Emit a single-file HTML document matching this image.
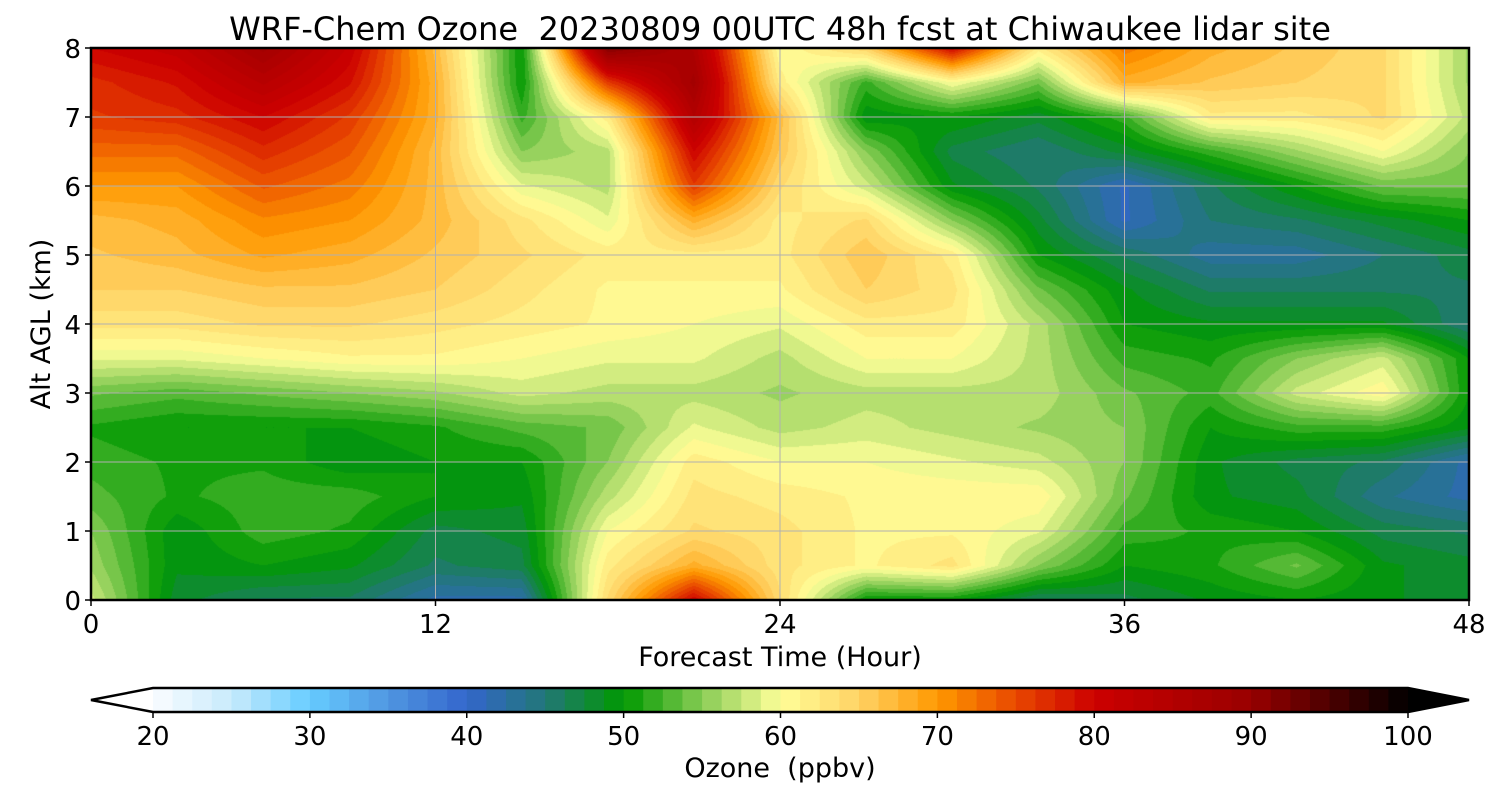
<!DOCTYPE html>
<html><head><meta charset="utf-8"><style>
html,body{margin:0;padding:0;background:#fff;}
#wrap{position:relative;width:1500px;height:800px;font-family:"DejaVu Sans","Liberation Sans",sans-serif;color:#000;}
canvas{position:absolute;left:91px;top:48px;}
svg{position:absolute;left:0;top:0;}
text{white-space:pre;font-family:"DejaVu Sans","Liberation Sans",sans-serif;}
</style></head><body>
<div id="wrap">
<canvas id="hm" width="1378" height="552"></canvas>
<svg id="sv" width="1500" height="800"></svg>
</div>
<script>
// Forecast hour columns
const hours = [0,3,6,9,12,15,18,21,24,27,30,33,36,39,42,45,48];
// Altitudes (km), top to bottom
const alts = [8,7.5,7,6.5,6,5.5,5,4.5,4,3.5,3,2.5,2,1.5,1,0.5,0];
// Ozone (ppbv) per column (hour), listed top (8 km) to bottom (0 km)
const oz_h0  = [80,77,76,73,70,67,66,65,63,59,54,51,52,53,55,56,58];
const oz_h3  = [82,79,77,73,70,68,67,65,63,59,53,50,51,51,49,49,48];
const oz_h6  = [88,84,80,77,74,71,69,66,64,60,54,50,51,52,52,50,46];
const oz_h9  = [81,79,76,74,72,70,68,66,64,61,55,50,49,52,51,49,46];
const oz_h12 = [67,68,68,67,67,67,66,65,63,61,56,51,50,50,47,46,42];
const oz_h15 = [50,50,52,55,59,63,64,63,62,60,58,53,50,49,48,47,42];
const oz_h18 = [92,76,62,57,57,59,62,61,61,59,57,54,55,57,60,62,64];
const oz_h21 = [86,88,85,80,76,68,62,61,60,59,57,59,62,63,64,68,80];
const oz_h24 = [60,62,67,66,64,62,62,61,59,57,56,57,60,62,63,63,64];
const oz_h27 = [65,52,49,55,58,64,66,65,62,60,57,58,60,61,61,61,50];
const oz_h30 = [80,60,50,47,49,55,62,63,62,60,57,57,59,61,61,63,50];
const oz_h33 = [62,54,48,45,46,48,50,54,57,57,57,56,58,61,59,55,46];
const oz_h36 = [72,68,52,48,41,41,46,49,50,52,54,55,55,54,52,50,47];
const oz_h39 = [68,66,62,52,46,45,43,46,49,51,52,50,49,49,51,51,49];
const oz_h42 = [66,65,62,56,50,46,43,46,49,55,58,52,47,48,50,54,50];
const oz_h45 = [64,64,64,60,54,48,45,46,49,58,61,52,46,44,47,49,49];
const oz_h48 = [56,56,57,55,54,50,47,46,45,50,50,49,42,42,46,48,48];
const ozone = [oz_h0,oz_h3,oz_h6,oz_h9,oz_h12,oz_h15,oz_h18,oz_h21,oz_h24,oz_h27,oz_h30,oz_h33,oz_h36,oz_h39,oz_h42,oz_h45,oz_h48];
// Colorbar ticks
const cbTicks = [20,30,40,50,60,70,80,90,100];
const xTicks = [0,12,24,36,48];
const yTicks = [0,1,2,3,4,5,6,7,8];

const PX0=91, PX1=1469, PY0=48, PY1=600;
const xScale = t => PX0 + (t-0)/(48-0)*(PX1-PX0);
const yScale = h => PY1 - h/8*(PY1-PY0);
const CB0=153, CB1=1408;
const cbScale = v => CB0 + (v-20)/80*(CB1-CB0);

const anchors=[[20,[250,252,255]],[25,[200,235,252]],[30,[102,204,255]],[35,[80,150,225]],[40,[51,102,204]],[45,[34,119,119]],[50,[0,153,0]],[55,[136,204,85]],[60,[255,255,153]],[65,[255,210,100]],[70,[255,153,0]],[75,[232,72,0]],[80,[204,0,0]],[90,[153,0,0]],[100,[0,0,0]]];
function cmap(v){
  if(v<=anchors[0][0]) return anchors[0][1];
  for(let i=1;i<anchors.length;i++){
    if(v<=anchors[i][0]){const a=anchors[i-1],b=anchors[i];const f=(v-a[0])/(b[0]-a[0]);
      return a[1].map((c,k)=>Math.round(c+(b[1][k]-c)*f));}
  }
  return anchors[anchors.length-1][1];
}
const STEP=1.25;
function qcolor(v){
  if(v<20) return [255,255,255];
  if(v>=100) return [0,0,0];
  const i=Math.floor((v-20)/STEP);
  return cmap(20+(i+0.5)*STEP);
}

(function(){
  const cv=document.getElementById('hm'),ctx=cv.getContext('2d');
  const W=cv.width,H=cv.height,img=ctx.createImageData(W,H);
  const nC=hours.length,nR=alts.length;
  for(let py=0;py<H;py++){
    const h=8-(py+0.5)/H*8;
    let r=0;while(r<nR-2 && alts[r+1]>h) r++;
    const fy=(alts[r]-h)/(alts[r]-alts[r+1]);
    for(let px=0;px<W;px++){
      const t=(px+0.5)/W*48;
      let c=0;while(c<nC-2 && hours[c+1]<t) c++;
      const fx=(t-hours[c])/(hours[c+1]-hours[c]);
      const v00=ozone[c][r],v10=ozone[c+1][r],v01=ozone[c][r+1],v11=ozone[c+1][r+1];
      const v=(v00*(1-fx)+v10*fx)*(1-fy)+(v01*(1-fx)+v11*fx)*fy;
      const col=qcolor(v);const k=(py*W+px)*4;
      img.data[k]=col[0];img.data[k+1]=col[1];img.data[k+2]=col[2];img.data[k+3]=255;
    }
  }
  ctx.putImageData(img,0,0);
})();

const NS='http://www.w3.org/2000/svg';
const sv=document.getElementById('sv');
function mk(tag,attrs,parent){const e=document.createElementNS(NS,tag);for(const k in attrs)e.setAttribute(k,attrs[k]);(parent||sv).appendChild(e);return e;}
function txt(s,attrs){const e=mk('text',attrs);e.textContent=s;return e;}

yTicks.forEach(v=>{if(v>0&&v<8){const l=mk('line',{x1:PX0,x2:PX1,y1:yScale(v),y2:yScale(v),stroke:'#b0b0b0','stroke-width':1});

}});
xTicks.forEach(v=>{if(v>0&&v<48){const l=mk('line',{x1:xScale(v),x2:xScale(v),y1:PY0,y2:PY1,stroke:'#b0b0b0','stroke-width':1});

}});
const fr=mk('rect',{x:PX0,y:PY0,width:PX1-PX0,height:PY1-PY0,fill:'none',stroke:'#000','stroke-width':2.5});



yTicks.forEach(v=>{const y=yScale(v);mk('line',{x1:PX0-6,x2:PX0,y1:y,y2:y,stroke:'#000','stroke-width':1.5});
const t=txt(String(v),{x:PX0-10,y:y+10,'font-size':26,'text-anchor':'end'});

});
xTicks.forEach(v=>{const x=xScale(v);mk('line',{x1:x,x2:x,y1:PY1,y2:PY1+6,stroke:'#000','stroke-width':1.5});
const t=txt(String(v),{x:x,y:633,'font-size':26,'text-anchor':'middle'});

});

let e;
e=txt('WRF-Chem Ozone  20230809 00UTC 48h fcst at Chiwaukee lidar site',{x:780,y:40,'font-size':32,'text-anchor':'middle'});


e=txt('Forecast Time (Hour)',{x:780,y:666,'font-size':27,'text-anchor':'middle'});


e=txt('Alt AGL (km)',{x:0,y:0,'font-size':27,'text-anchor':'middle',transform:'translate(50,324) rotate(-90)'});



const CBY0=688,CBY1=712;
const g=mk('g',{});


const nLev=Math.round(80/STEP);
for(let i=0;i<nLev;i++){
  const v0=20+i*STEP,v1=v0+STEP;const c=cmap(v0+STEP/2);
  const r=mk('rect',{x:cbScale(v0),y:CBY0,width:cbScale(v1)-cbScale(v0)+0.6,height:CBY1-CBY0,fill:`rgb(${c})`},g);
  
  
}
mk('polygon',{points:`${CB0},${CBY0} 91,${(CBY0+CBY1)/2} ${CB0},${CBY1}`,fill:'#fff',stroke:'none'},g);
mk('polygon',{points:`${CB1},${CBY0} 1469,${(CBY0+CBY1)/2} ${CB1},${CBY1}`,fill:'#000',stroke:'none'},g);
mk('polygon',{points:`${CB0},${CBY0} ${CB1},${CBY0} 1469,${(CBY0+CBY1)/2} ${CB1},${CBY1} ${CB0},${CBY1} 91,${(CBY0+CBY1)/2}`,fill:'none',stroke:'#000','stroke-width':2.5},g);
cbTicks.forEach(v=>{const x=cbScale(v);mk('line',{x1:x,x2:x,y1:CBY1,y2:CBY1+6,stroke:'#000','stroke-width':1.5});
const t=txt(String(v),{x:x,y:745,'font-size':26,'text-anchor':'middle'});

});
e=txt('Ozone  (ppbv)',{x:780,y:777,'font-size':27,'text-anchor':'middle'});


</script>
</body></html>
